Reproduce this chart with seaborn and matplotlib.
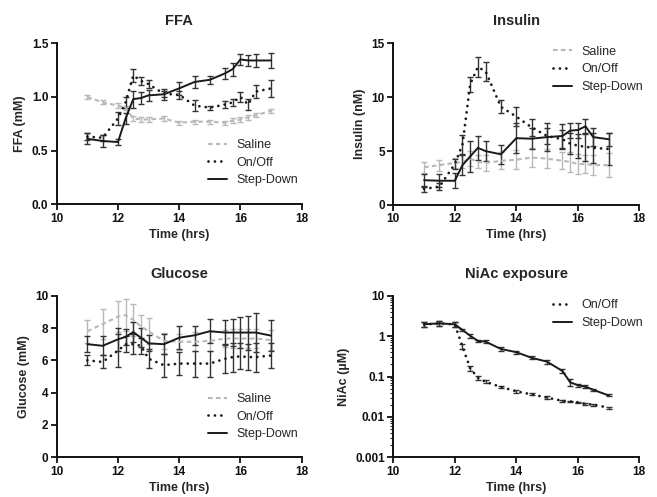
import matplotlib
matplotlib.use("Agg")
import matplotlib.pyplot as plt
import matplotlib.ticker as mticker
import seaborn as sns

# ---------------- data ----------------
time_hrs = [11, 11.5, 12, 12.25, 12.5, 12.75, 13, 13.5, 14, 14.5, 15, 15.5, 15.75, 16, 16.25, 16.5, 17]

ffa_saline = [1.00, 0.95, 0.92, 0.90, 0.80, 0.79, 0.79, 0.80, 0.76, 0.77, 0.77, 0.76, 0.78, 0.79, 0.81, 0.83, 0.87]
ffa_saline_err = [0.02, 0.02, 0.02, 0.02, 0.02, 0.02, 0.02, 0.02, 0.02, 0.02, 0.02, 0.02, 0.02, 0.02, 0.02, 0.02, 0.02]
ffa_onoff = [0.63, 0.62, 0.80, 0.95, 1.20, 1.15, 1.12, 1.03, 1.02, 0.92, 0.90, 0.93, 0.95, 1.00, 0.93, 1.05, 1.08]
ffa_onoff_err = [0.03, 0.03, 0.06, 0.05, 0.06, 0.04, 0.04, 0.03, 0.04, 0.05, 0.02, 0.03, 0.03, 0.05, 0.05, 0.06, 0.08]
ffa_step = [0.61, 0.59, 0.58, 0.80, 0.98, 0.99, 1.015, 1.025, 1.08, 1.14, 1.16, 1.22, 1.26, 1.35, 1.34, 1.34, 1.34]
ffa_step_err = [0.05, 0.06, 0.03, 0.05, 0.08, 0.06, 0.05, 0.05, 0.06, 0.06, 0.04, 0.05, 0.06, 0.05, 0.05, 0.06, 0.07]

ins_saline = [3.5, 3.7, 3.9, 4.0, 4.3, 4.0, 3.9, 4.1, 4.2, 4.4, 4.3, 4.1, 4.0, 3.8, 3.8, 3.7, 3.7]
ins_saline_err = [0.5, 0.5, 0.5, 0.6, 0.7, 0.6, 0.7, 0.8, 0.9, 0.9, 0.9, 0.8, 0.9, 0.9, 0.8, 0.9, 1.1]
ins_onoff = [1.5, 1.7, 3.8, 5.6, 11.2, 12.8, 12.4, 9.1, 8.2, 7.2, 6.4, 6.1, 5.7, 5.5, 5.4, 5.3, 5.2]
ins_onoff_err = [0.3, 0.3, 0.5, 0.9, 0.7, 0.9, 0.9, 0.6, 0.9, 0.8, 0.7, 0.9, 1.0, 1.1, 1.3, 1.4, 1.5]
ins_step = [2.3, 2.25, 2.25, 3.7, 4.5, 5.3, 5.0, 4.7, 6.2, 6.15, 6.3, 6.4, 6.9, 6.95, 7.3, 6.3, 6.1]
ins_step_err = [0.6, 0.6, 0.7, 0.9, 1.4, 1.1, 0.9, 0.9, 1.4, 1.0, 1.3, 1.1, 0.7, 0.7, 0.7, 0.8, 0.6]

glu_saline = [7.8, 8.25, 8.7, 8.8, 8.5, 8.1, 7.8, 7.2, 7.15, 7.15, 7.2, 7.35, 7.35, 7.35, 7.35, 7.35, 7.25]
glu_saline_err = [0.7, 0.95, 0.95, 1.0, 1.0, 0.7, 0.8, 0.5, 0.5, 0.6, 0.6, 0.5, 0.6, 0.6, 0.6, 0.6, 0.6]
glu_onoff = [6.0, 5.9, 6.6, 7.0, 7.0, 6.9, 6.1, 5.7, 5.8, 5.8, 5.8, 6.1, 6.2, 6.25, 6.2, 6.2, 6.3]
glu_onoff_err = [0.3, 0.4, 1.0, 0.5, 0.6, 0.5, 0.6, 0.7, 0.7, 0.8, 0.8, 0.9, 0.9, 0.8, 0.8, 0.9, 0.8]
glu_step = [7.0, 6.9, 7.3, 7.45, 7.75, 7.4, 7.05, 7.0, 7.4, 7.55, 7.8, 7.72, 7.72, 7.72, 7.72, 7.72, 7.53]
glu_step_err = [0.5, 0.6, 0.7, 0.5, 0.6, 0.6, 0.5, 0.6, 0.7, 0.6, 0.75, 0.8, 0.85, 0.95, 1.05, 1.2, 0.95]

niac_onoff = [1.95, 2.05, 1.95, 0.55, 0.16, 0.093, 0.074, 0.055, 0.043, 0.036, 0.030, 0.025, 0.024, 0.023, 0.021, 0.020, 0.017]
niac_onoff_err = [0.25, 0.25, 0.25, 0.08, 0.025, 0.01, 0.006, 0.004, 0.003, 0.002, 0.002, 0.001, 0.001, 0.001, 0.001, 0.001, 0.001]
niac_step = [1.96, 2.07, 1.96, 1.42, 1.02, 0.76, 0.73, 0.48, 0.40, 0.29, 0.233, 0.137, 0.072, 0.061, 0.056, 0.047, 0.034]
niac_step_err = [0.25, 0.25, 0.25, 0.12, 0.10, 0.06, 0.05, 0.06, 0.03, 0.025, 0.03, 0.015, 0.015, 0.006, 0.004, 0.003, 0.002]

series_names = ["Saline", "On/Off", "Step-Down"]

# ---------------- style ----------------
sns.set_style("ticks")
plt.rcParams["font.family"] = ["Liberation Sans", "DejaVu Sans"]

styles = {
    "Saline": dict(color="#b8b8b8", linestyle=(0, (2.2, 1.6)), linewidth=1.5, ecolor="#b8b8b8"),
    "On/Off": dict(color="#1a1a1a", linestyle=(0, (0.01, 2.3)), linewidth=2.0, ecolor="#333333",
                   dash_capstyle="round"),
    "Step-Down": dict(color="#1a1a1a", linestyle="-", linewidth=1.4, ecolor="#333333"),
}

W, H = 657, 497
fig = plt.figure(figsize=(W / 100, H / 100), dpi=100)


def px_axes(x0, x1, ytop, ybot):
    return fig.add_axes([x0 / W, 1 - ybot / H, (x1 - x0) / W, (ybot - ytop) / H])


ax_ffa = px_axes(56.7, 301.7, 43.3, 204.3)
ax_ins = px_axes(393.3, 639.3, 43.3, 205.0)
ax_glu = px_axes(56.7, 301.7, 295.7, 457.3)
ax_nia = px_axes(393.3, 639.3, 295.7, 457.3)

panels = [
    (ax_ffa, "FFA", "FFA (mM)", {"Saline": (ffa_saline, ffa_saline_err), "On/Off": (ffa_onoff, ffa_onoff_err),
                                 "Step-Down": (ffa_step, ffa_step_err)}, (0.618, 0.405)),
    (ax_ins, "Insulin", "Insulin (nM)", {"Saline": (ins_saline, ins_saline_err), "On/Off": (ins_onoff, ins_onoff_err),
                                         "Step-Down": (ins_step, ins_step_err)}, (0.649, 0.985)),
    (ax_glu, "Glucose", "Glucose (mM)", {"Saline": (glu_saline, glu_saline_err), "On/Off": (glu_onoff, glu_onoff_err),
                                         "Step-Down": (glu_step, glu_step_err)}, (0.618, 0.398)),
    (ax_nia, "NiAc exposure", "NiAc (\u00b5M)", {"On/Off": (niac_onoff, niac_onoff_err),
                                                "Step-Down": (niac_step, niac_step_err)}, (0.649, 0.978)),
]

for ax, title, ylabel, data, legpos in panels:
    for name in series_names:
        if name not in data:
            continue
        vals, errs = data[name]
        st = styles[name]
        ax.errorbar(time_hrs, vals, yerr=errs, fmt="none", ecolor=st["ecolor"], elinewidth=1.0,
                    capsize=2.4, capthick=1.0, zorder=2)
        kw = {k: v for k, v in st.items() if k != "ecolor"}
        sns.lineplot(x=time_hrs, y=vals, ax=ax, label=name, zorder=3, **kw)

    ax.set_xlim(10, 18)
    ax.set_xticks([10, 12, 14, 16, 18])
    for sp in ["top", "right"]:
        ax.spines[sp].set_visible(False)
    for sp in ["left", "bottom"]:
        ax.spines[sp].set_linewidth(1.4)
        ax.spines[sp].set_color("#111111")
    ax.tick_params(axis="both", which="major", length=4, width=1.3, pad=2, labelsize=8.5,
                   colors="#111111")
    ax.set_title(title, fontsize=10.5, fontweight="bold", pad=13)
    ax.set_xlabel("Time (hrs)", fontsize=9, fontweight="bold", labelpad=3)
    ax.set_ylabel(ylabel, fontsize=9, fontweight="bold", labelpad=4)
    ax.legend(loc="upper left", bbox_to_anchor=legpos, frameon=False, fontsize=9,
              handlelength=1.5, handletextpad=0.8, labelspacing=0.45, borderpad=0,
              borderaxespad=0)

ax_ffa.set_ylim(0, 1.5)
ax_ffa.set_yticks([0, 0.5, 1.0, 1.5])
ax_ffa.yaxis.set_major_formatter(mticker.FormatStrFormatter("%.1f"))

ax_ins.set_ylim(0, 15)
ax_ins.set_yticks([0, 5, 10, 15])

ax_glu.set_ylim(0, 10)
ax_glu.set_yticks([0, 2, 4, 6, 8, 10])

ax_nia.set_yscale("log")
ax_nia.set_ylim(0.001, 10)
ax_nia.set_yticks([0.001, 0.01, 0.1, 1, 10])
ax_nia.yaxis.set_major_formatter(mticker.FixedFormatter(["0.001", "0.01", "0.1", "1", "10"]))
ax_nia.yaxis.set_minor_locator(mticker.LogLocator(base=10, subs=range(2, 10)))
ax_nia.yaxis.set_minor_formatter(mticker.NullFormatter())
ax_nia.tick_params(axis="y", which="minor", length=2, width=0.8)

for ax in [ax_ffa, ax_ins, ax_glu, ax_nia]:
    for lab in ax.get_xticklabels() + ax.get_yticklabels():
        lab.set_fontweight("bold")

fig.savefig("out.png", dpi=100)
